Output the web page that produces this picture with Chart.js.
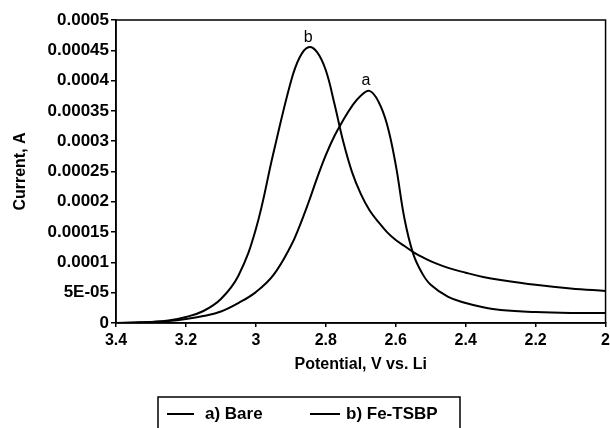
<!DOCTYPE html>
<html>
<head>
<meta charset="utf-8">
<script src="https://cdn.jsdelivr.net/npm/chart.js@4.4.1/dist/chart.umd.min.js"></script>
<style>
  html, body { margin: 0; padding: 0; background: #fff; overflow: hidden; }
</style>
</head>
<body>
<canvas id="chartVoltammetry" width="614" height="428"></canvas>
<script>
const potentials = [3.4, 3.35, 3.3, 3.25, 3.2, 3.15, 3.1, 3.05, 3.0, 2.95, 2.9, 2.875, 2.85, 2.825, 2.8, 2.775, 2.75, 2.725, 2.7, 2.675, 2.65, 2.625, 2.6, 2.575, 2.55, 2.525, 2.5, 2.45, 2.4, 2.35, 2.3, 2.2, 2.1, 2.0];
const currentBare = [0, 0.5e-6, 1.7e-6, 3.3e-6, 6.6e-6, 11.6e-6, 19e-6, 33e-6, 51e-6, 79e-6, 127e-6, 160e-6, 198e-6, 239e-6, 277e-6, 309e-6, 335e-6, 358e-6, 375e-6, 383e-6, 366e-6, 328e-6, 261e-6, 172e-6, 114e-6, 82.5e-6, 63e-6, 43e-6, 33e-6, 26e-6, 21.5e-6, 18e-6, 16.5e-6, 16.5e-6];
const currentFeTSBP = [0, 0.8e-6, 1.7e-6, 4.1e-6, 9.9e-6, 19.8e-6, 39.6e-6, 78e-6, 155e-6, 280e-6, 398e-6, 438e-6, 455e-6, 447e-6, 417e-6, 361e-6, 299e-6, 249e-6, 213e-6, 186e-6, 167e-6, 150e-6, 137e-6, 127e-6, 117e-6, 109e-6, 102e-6, 91e-6, 83e-6, 76e-6, 71e-6, 63e-6, 57e-6, 53e-6];
const seriesNames = ['a) Bare', 'b) Fe-TSBP'];
const peakLetters = ['a', 'b'];
const peakPotentials = [2.685, 2.85];
const peakCurrents = [0.000385, 0.000455];
const xTickLabels = ['3.4', '3.2', '3', '2.8', '2.6', '2.4', '2.2', '2'];
const yTickLabels = ['0', '5E-05', '0.0001', '0.00015', '0.0002', '0.00025', '0.0003', '0.00035', '0.0004', '0.00045', '0.0005'];

const FONT = "'Liberation Sans', Arial, Helvetica, sans-serif";
Chart.defaults.font.family = FONT;
Chart.defaults.color = '#000';

const toPoints = (ys) => potentials.map((v, i) => ({ x: v, y: ys[i] }));
const labelFor = (list, v) => list.find(l => Math.abs(parseFloat(l) - v) < 1e-9);

// box round the plot area
const frame = {
  id: 'frame',
  afterDatasetsDraw(chart) {
    const { ctx, chartArea: a } = chart;
    ctx.save();
    ctx.strokeStyle = '#000';
    ctx.lineWidth = 1.5;
    ctx.strokeRect(a.left, a.top, a.right - a.left, a.bottom - a.top);
    ctx.restore();
  }
};

// the letters over each peak
const peakNames = {
  id: 'peakNames',
  afterDatasetsDraw(chart) {
    const { ctx, scales: { x, y } } = chart;
    ctx.save();
    ctx.font = '16px ' + FONT;
    ctx.fillStyle = '#000';
    ctx.textAlign = 'center';
    ctx.textBaseline = 'alphabetic';
    peakLetters.forEach((t, i) => {
      ctx.fillText(t, x.getPixelForValue(peakPotentials[i]), y.getPixelForValue(peakCurrents[i]) - 5);
    });
    ctx.restore();
  }
};

// boxed legend under the axis title
const boxLegend = {
  id: 'boxLegend',
  afterDraw(chart) {
    const { ctx } = chart;
    const boxL = 158, boxR = 460, boxT = 397;
    const items = [{ line: 167, len: 27, text: 205 }, { line: 310, len: 30, text: 346 }];
    const midY = 414;
    ctx.save();
    ctx.strokeStyle = '#000';
    ctx.lineWidth = 1.5;
    ctx.strokeRect(boxL, boxT, boxR - boxL, 60);
    ctx.font = 'bold 17px ' + FONT;
    ctx.fillStyle = '#000';
    ctx.textBaseline = 'middle';
    chart.data.datasets.forEach((ds, i) => {
      const it = items[i];
      ctx.beginPath();
      ctx.lineWidth = 2;
      ctx.strokeStyle = ds.borderColor;
      ctx.moveTo(it.line, midY);
      ctx.lineTo(it.line + it.len, midY);
      ctx.stroke();
      ctx.fillText(ds.label, it.text, midY);
    });
    ctx.restore();
  }
};

new Chart(document.getElementById('chartVoltammetry'), {
  type: 'line',
  data: {
    datasets: [
      { label: seriesNames[0], data: toPoints(currentBare), borderColor: '#000', backgroundColor: '#000', borderWidth: 2, pointRadius: 0, tension: 0.4 },
      { label: seriesNames[1], data: toPoints(currentFeTSBP), borderColor: '#000', backgroundColor: '#000', borderWidth: 2, pointRadius: 0, tension: 0.4 }
    ]
  },
  options: {
    responsive: false,
    animation: false,
    layout: { padding: { top: 20, right: 6, bottom: 50, left: 0 } },
    scales: {
      x: {
        type: 'linear',
        reverse: true,
        min: 2,
        max: 3.4,
        afterBuildTicks: s => { s.ticks = xTickLabels.map(l => ({ value: parseFloat(l) })); },
        afterFit: s => { s.height = 55; },
        ticks: {
          padding: 4,
          maxRotation: 0,
          font: { size: 16, weight: 'bold' },
          callback: v => labelFor(xTickLabels, v)
        },
        grid: { drawOnChartArea: false, tickLength: 4, color: '#000', lineWidth: 1.5 },
        border: { color: '#000', width: 1.5 },
        title: {
          display: true,
          text: 'Potential, V vs. Li',
          font: { size: 16, weight: 'bold' },
          padding: { top: 0, bottom: 4 }
        }
      },
      y: {
        min: 0,
        max: 0.0005,
        afterBuildTicks: s => { s.ticks = yTickLabels.map(l => ({ value: parseFloat(l) })); },
        afterFit: s => { s.width = 116; },
        ticks: {
          padding: 2,
          font: { size: 17, weight: 'bold' },
          callback: v => labelFor(yTickLabels, v)
        },
        grid: { drawOnChartArea: false, tickLength: 5, color: '#000', lineWidth: 1.5 },
        border: { color: '#000', width: 1.5 },
        title: {
          display: true,
          text: 'Current, A',
          font: { size: 16, weight: 'bold' },
          padding: { top: 11, bottom: 0 }
        }
      }
    },
    plugins: {
      legend: { display: false },
      tooltip: { enabled: false }
    }
  },
  plugins: [frame, peakNames, boxLegend]
});
</script>
</body>
</html>
